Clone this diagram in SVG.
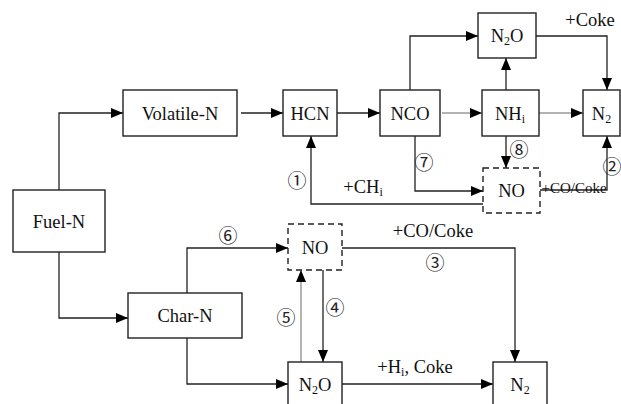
<svg xmlns="http://www.w3.org/2000/svg" width="621" height="404" viewBox="0 0 621 404">
<defs>
<marker id="ah" markerUnits="userSpaceOnUse" markerWidth="13" markerHeight="11" refX="12" refY="5" orient="auto">
<path d="M0,0 L12,5 L0,10 z" fill="#000"/>
</marker>
<style>
.box{fill:#fff;stroke:#222;stroke-width:1.4}
.dash{fill:#fff;stroke:#222;stroke-width:1.4;stroke-dasharray:6,4}
.t{font-family:"Liberation Serif","Times New Roman",serif;font-size:18.5px;fill:#111;text-anchor:middle}
.s{font-size:12px}
.c{font-family:"Noto Sans CJK SC","DejaVu Sans",sans-serif;font-size:19px;fill:#222;text-anchor:middle}
.ln{fill:none;stroke:#222;stroke-width:1.3;marker-end:url(#ah)}
.lg{fill:none;stroke:#666;stroke-width:1;marker-end:url(#ah)}
</style>
</defs>
<rect width="621" height="404" fill="#fff"/>
<g id="connectors">
<path class="ln" d="M59,190 V113 H123"/>
<path class="ln" d="M241,113 H283"/>
<path class="ln" d="M337,113 H380"/>
<path class="lg" d="M442,113 H482"/>
<path class="lg" d="M539,113 H583"/>
<path class="ln" d="M410,90 V36 H478"/>
<path class="ln" d="M536,36 H607 V90"/>
<path class="ln" d="M506,90 V58"/>
<path class="ln" d="M506,136 V168"/>
<path class="ln" d="M415,136 V191 H483"/>
<path class="ln" d="M540,190 H607 V136"/>
<path class="ln" d="M483,204 H311 V136"/>
<path class="ln" d="M59,252 V318 H128"/>
<path class="ln" d="M187,293 V248 H288"/>
<path class="ln" d="M187,338 V384 H288"/>
<path class="lg" d="M301,362 V270"/>
<path class="ln" d="M323,270 V362"/>
<path class="ln" d="M342,248 H515 V362"/>
<path class="ln" d="M342,384 H493"/>
</g>
<g id="fuel-n"><rect class="box" x="13" y="190" width="92" height="62"/><text class="t" x="59" y="228">Fuel-N</text></g>
<g id="volatile-n"><rect class="box" x="123" y="90" width="114" height="46"/><text class="t" x="180" y="119.5">Volatile-N</text></g>
<g id="hcn"><rect class="box" x="283" y="90" width="54" height="46"/><text class="t" x="310" y="119.5">HCN</text></g>
<g id="nco"><rect class="box" x="380" y="90" width="60" height="46"/><text class="t" x="410" y="119.5">NCO</text></g>
<g id="nhi"><rect class="box" x="482" y="90" width="57" height="46"/><text class="t" x="510" y="119.5">NH<tspan class="s" dy="3">i</tspan></text></g>
<g id="n2-top"><rect class="box" x="583" y="90" width="37" height="46"/><text class="t" x="601.5" y="119.5">N<tspan class="s" dy="3">2</tspan></text></g>
<g id="n2o-top"><rect class="box" x="478" y="13" width="58" height="45"/><text class="t" x="507" y="42">N<tspan class="s" dy="3">2</tspan><tspan dy="-3">O</tspan></text></g>
<g id="no-top"><rect class="dash" x="483" y="168" width="57" height="45"/><text class="t" x="511.5" y="197">NO</text></g>
<g id="char-n"><rect class="box" x="128" y="293" width="114" height="45"/><text class="t" x="185" y="322">Char-N</text></g>
<g id="no-bottom"><rect class="dash" x="288" y="224" width="54" height="46"/><text class="t" x="315" y="253.5">NO</text></g>
<g id="n2o-bottom"><rect class="box" x="288" y="362" width="54" height="50"/><text class="t" x="315" y="390.5">N<tspan class="s" dy="3">2</tspan><tspan dy="-3">O</tspan></text></g>
<g id="n2-bottom"><rect class="box" x="493" y="362" width="54" height="50"/><text class="t" x="520" y="390.5">N<tspan class="s" dy="3">2</tspan></text></g>
<g id="labels">
<text class="t" x="590" y="26">+Coke</text>
<text class="t" x="363" y="193">+CH<tspan class="s" dy="3">i</tspan></text>
<text class="t" x="574" y="193" style="font-size:15px">+CO/Coke</text>
<text class="t" x="433" y="237">+CO/Coke</text>
<text class="t" x="415" y="373">+H<tspan class="s" dy="3">i</tspan><tspan dy="-3">, Coke</tspan></text>
<text class="c" x="297" y="188">①</text>
<text class="c" x="612" y="174">②</text>
<text class="c" x="435" y="270">③</text>
<text class="c" x="335" y="315">④</text>
<text class="c" x="286" y="325">⑤</text>
<text class="c" x="228" y="243">⑥</text>
<text class="c" x="424" y="170">⑦</text>
<text class="c" x="519" y="157">⑧</text>
</g>
</svg>
